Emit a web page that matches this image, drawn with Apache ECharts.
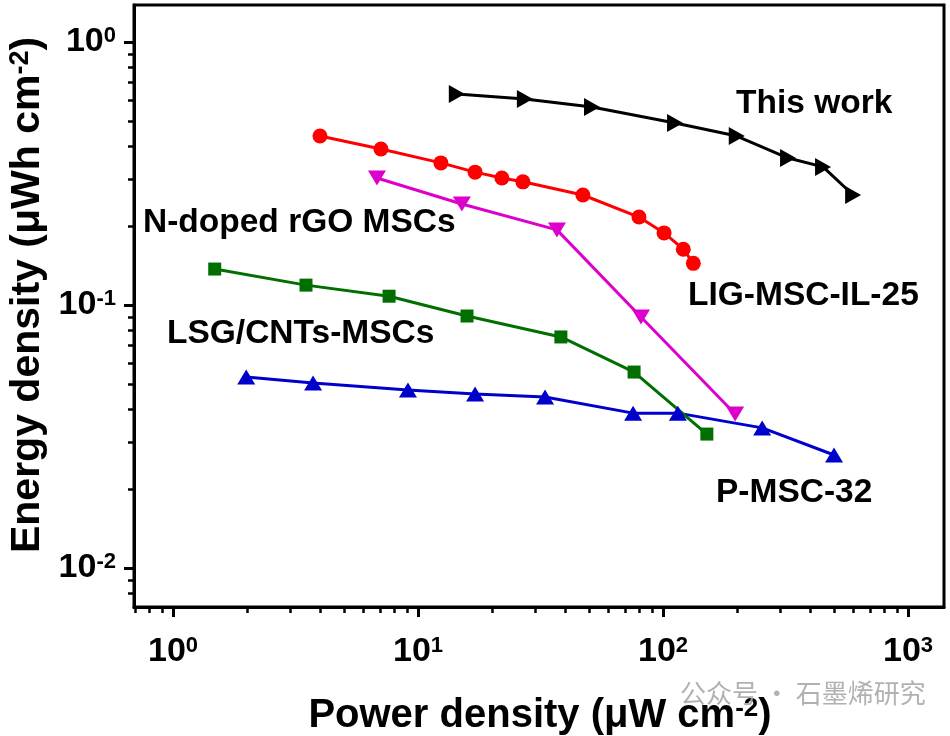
<!DOCTYPE html>
<html>
<head>
<meta charset="utf-8">
<script src="https://cdn.jsdelivr.net/npm/echarts@6/dist/echarts.min.js"></script>
<style>
html,body{margin:0;padding:0;background:#fff;}
#chart{width:950px;height:736px;}
</style>
</head>
<body>
<div id="chart"></div>
<script>
// ---- data ----
const thisWorkX = [14.4, 27.3, 51.3, 112, 200, 324, 450, 597];
const thisWorkY = [0.634, 0.607, 0.566, 0.492, 0.439, 0.362, 0.335, 0.262];

const redX = [3.98, 7.06, 12.4, 17.1, 22.0, 26.8, 47.1, 79.8, 101, 121, 133];
const redY = [0.439, 0.392, 0.347, 0.320, 0.304, 0.294, 0.262, 0.216, 0.188, 0.163, 0.144];

const magentaX = [6.80, 15.1, 36.9, 81.3, 197];
const magentaY = [0.304, 0.242, 0.193, 0.090, 0.0385];

const greenX = [1.48, 3.49, 7.62, 15.85, 38.3, 76.2, 151];
const greenY = [0.137, 0.119, 0.108, 0.0908, 0.0756, 0.0556, 0.0323];

const blueX = [1.99, 3.73, 9.10, 17.1, 33.0, 75.5, 115, 254, 499];
const blueY = [0.0532, 0.0505, 0.0475, 0.0459, 0.0447, 0.0388, 0.0388, 0.0341, 0.0269];

// ---- ticks ----
const xTickValues = [1, 10, 100, 1000];
const xMinorTickValues = [0.7, 0.8, 0.9, 2, 3, 4, 5, 6, 7, 8, 9, 20, 30, 40, 50, 60, 70, 80, 90, 200, 300, 400, 500, 600, 700, 800, 900];
const yTickValues = [0.01, 0.1, 1];
const yMinorTickValues = [0.008, 0.009, 0.02, 0.03, 0.04, 0.05, 0.06, 0.07, 0.08, 0.09, 0.2, 0.3, 0.4, 0.5, 0.6, 0.7, 0.8, 0.9];

// ---- text ----
const annotations = [
  {text: 'This work', x: 736, y: 104},
  {text: 'N-doped rGO MSCs', x: 143, y: 223},
  {text: 'LIG-MSC-IL-25', x: 688, y: 296},
  {text: 'LSG/CNTs-MSCs', x: 167, y: 334},
  {text: 'P-MSC-32', x: 716, y: 493}
];

const FONT = '"Liberation Sans", Arial, Helvetica, sans-serif';
const X_MIN = Math.pow(10, -39 / 245);
const X_MAX = Math.pow(10, 771 / 245);
const Y_MAX = Math.pow(10, 37 / 263);
const Y_MIN = Math.pow(10, (37 - 602) / 263);

function pairs(xs, ys) { return xs.map((x, i) => [x, ys[i]]); }
function powLabel(v) {
  const e = Math.round(Math.log10(v));
  return '{b|10}{s|' + e + '}';
}
const labelRich = {
  b: {fontSize: 34, fontWeight: 'bold', fontFamily: FONT, color: '#000'},
  s: {fontSize: 22, fontWeight: 'bold', fontFamily: FONT, color: '#000', verticalAlign: 'top', lineHeight: 14}
};

function lineSeries(name, xs, ys, color, symbol, size, rotate) {
  return {
    name: name, type: 'line', data: pairs(xs, ys),
    symbol: symbol, symbolSize: size, symbolRotate: rotate || 0,
    showSymbol: true,
    lineStyle: {color: color, width: 3},
    itemStyle: {color: color, borderWidth: 0},
    emphasis: {disabled: true},
    animation: false
  };
}

const chart = echarts.init(document.getElementById('chart'), null, {renderer: 'canvas'});
chart.setOption({
  backgroundColor: '#fff',
  animation: false,
  grid: {left: 134, top: 5, right: 6, bottom: 129, show: true, borderColor: '#000', borderWidth: 3, backgroundColor: 'transparent'},
  xAxis: [
    {
      type: 'log', logBase: 10, min: X_MIN, max: X_MAX,
      axisLine: {show: true, lineStyle: {color: '#000', width: 3}},
      axisTick: {show: true, inside: false, length: 10, lineStyle: {color: '#000', width: 3}, customValues: xTickValues},
      axisLabel: {show: true, customValues: xTickValues, formatter: powLabel, rich: labelRich, margin: 28},
      splitLine: {show: false}, minorTick: {show: false}
    },
    {
      type: 'log', logBase: 10, min: X_MIN, max: X_MAX, position: 'bottom',
      axisLine: {show: false},
      axisTick: {show: true, inside: false, length: 6, lineStyle: {color: '#000', width: 2.5}, customValues: xMinorTickValues},
      axisLabel: {show: false},
      splitLine: {show: false}
    }
  ],
  yAxis: [
    {
      type: 'log', logBase: 10, min: Y_MIN, max: Y_MAX,
      axisLine: {show: true, lineStyle: {color: '#000', width: 3}},
      axisTick: {show: true, inside: false, length: 10, lineStyle: {color: '#000', width: 3}, customValues: yTickValues},
      axisLabel: {show: true, customValues: yTickValues, formatter: powLabel, rich: labelRich, margin: 18},
      splitLine: {show: false}, minorTick: {show: false}
    },
    {
      type: 'log', logBase: 10, min: Y_MIN, max: Y_MAX, position: 'left',
      axisLine: {show: false},
      axisTick: {show: true, inside: false, length: 6, lineStyle: {color: '#000', width: 2.5}, customValues: yMinorTickValues},
      axisLabel: {show: false},
      splitLine: {show: false}
    }
  ],
  series: [
    lineSeries('P-MSC-32', blueX, blueY, '#0000cc', 'triangle', [18, 15], 0),
    lineSeries('LSG/CNTs-MSCs', greenX, greenY, '#006f00', 'rect', 13, 0),
    lineSeries('N-doped rGO MSCs', magentaX, magentaY, '#dd00cc', 'triangle', [18, 15], 180),
    lineSeries('LIG-MSC-IL-25', redX, redY, '#ff0000', 'circle', 15, 0),
    lineSeries('This work', thisWorkX, thisWorkY, '#000000', 'triangle', [18, 16], -90)
  ],
  graphic: [].concat(
    annotations.map(a => ({
      type: 'text', x: a.x, y: a.y, silent: true,
      style: {text: a.text, font: 'bold 33.5px ' + FONT, fill: '#000', align: 'left', verticalAlign: 'middle'}
    })),
    [
      {
        type: 'text', x: 540, y: 716, silent: true,
        style: {
          text: '{t|Power density (μW cm}{s|-2}{t|)}', align: 'center', verticalAlign: 'middle', fill: '#000',
          rich: {
            t: {fontSize: 40, fontWeight: 'bold', fontFamily: FONT, fill: '#000'},
            s: {fontSize: 26, fontWeight: 'bold', fontFamily: FONT, fill: '#000', verticalAlign: 'top', lineHeight: 16}
          }
        }
      },
      {
        type: 'text', x: 28, y: 295, rotation: Math.PI / 2, silent: true,
        style: {
          text: '{t|Energy density (μWh cm}{s|-2}{t|)}', align: 'center', verticalAlign: 'middle', fill: '#000',
          rich: {
            t: {fontSize: 41, fontWeight: 'bold', fontFamily: FONT, fill: '#000'},
            s: {fontSize: 27, fontWeight: 'bold', fontFamily: FONT, fill: '#000', verticalAlign: 'top', lineHeight: 16}
          }
        }
      },
      {
        type: 'text', x: 680, y: 693, silent: true,
        style: {text: '公众号 · 石墨烯研究', font: '26px "Noto Sans CJK SC", sans-serif', fill: '#a8a8a8', align: 'left', verticalAlign: 'middle', opacity: 0.9}
      }
    ]
  )
});
</script>
</body>
</html>
